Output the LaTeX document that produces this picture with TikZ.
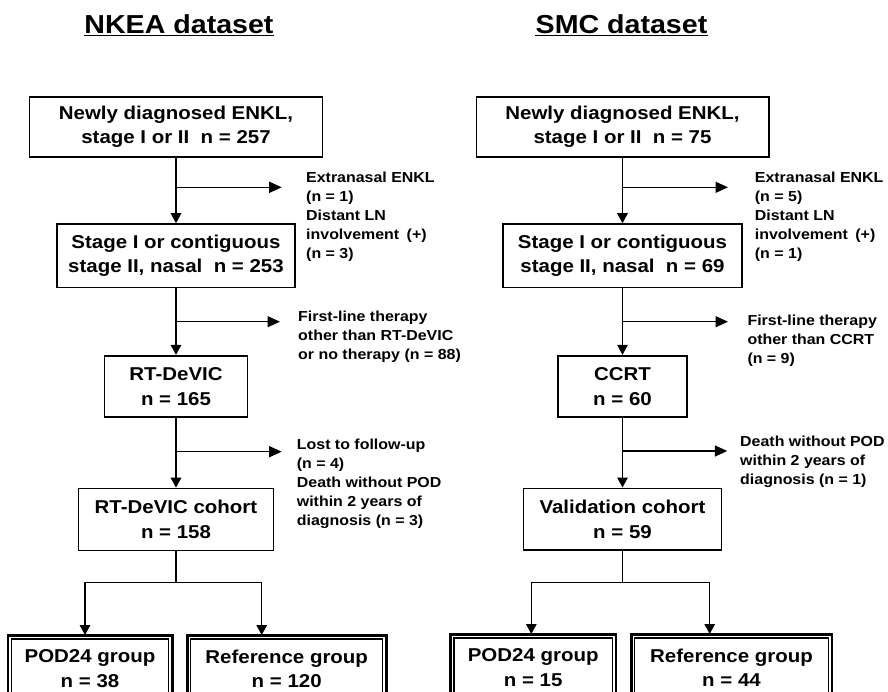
\documentclass[tikz,border=0pt]{standalone}
\usepackage{fontspec}
\setmainfont{Liberation Sans}[FakeStretch=1.1]
\usetikzlibrary{arrows.meta}
\begin{document}
\begin{tikzpicture}[x=1pt,y=-1pt,
  box/.style={draw, line width=1.7pt, inner sep=0pt, align=center,
    font=\bfseries\fontsize{18.6}{24.5}\selectfont},
  grp/.style={draw, line width=1.6pt, inner sep=0pt, align=center,
    font=\bfseries\fontsize{18.6}{24.5}\selectfont},
  side/.style={anchor=north west, inner sep=0pt, align=left,
    font=\bfseries\fontsize{14.5}{19}\selectfont},
  ttl/.style={inner sep=0pt, anchor=base,
    font=\bfseries\fontsize{26}{30}\selectfont},
  ln/.style={line width=1.5pt},
  varr/.style={line width=1.5pt, -{Triangle[length=10pt,width=10.5pt]}},
  harr/.style={line width=1.5pt, -{Triangle[length=12.5pt,width=11pt]}},
  thinrule/.style={line width=0.8pt},
  innerrule/.style={line width=1.4pt}
]
\useasboundingbox (0,0) rectangle (888,691);
\clip (0,0) rectangle (888,691);

% titles
\node[ttl] (t1) at (179,33.3) {NKEA dataset};
\draw[line width=1.6pt] ([yshift=-2.3pt]t1.base west) -- ([yshift=-2.3pt]t1.base east);
\node[ttl] (t2) at (621.5,33.3) {SMC dataset};
\draw[line width=1.6pt] ([yshift=-2.3pt]t2.base west) -- ([yshift=-2.3pt]t2.base east);

% ---------------- left column ----------------
\node[box, minimum width=293pt, minimum height=60pt] (a1) at (176,126.7)
  {Newly diagnosed ENKL,\\stage I or II\ \ n = 257};
\node[box, minimum width=238pt, minimum height=63.3pt] (a2) at (176,255.7)
  {Stage I or contiguous\\stage II, nasal\ \ n = 253};
\node[box, minimum width=143pt, minimum height=61.6pt] (a3) at (176,386.5)
  {RT-DeVIC\\n = 165};
\node[box, minimum width=195pt, minimum height=62pt] (a4) at (176,519.5)
  {RT-DeVIC cohort\\n = 158};
\node[grp, minimum width=165.4pt, minimum height=67.6pt] (p1) at (90,668.8)
  {POD24 group\\n = 38};
\node[grp, minimum width=200pt, minimum height=67.6pt] (r1) at (286.7,668.8)
  {Reference group\\n = 120};

\node[side] (s1) at (306,172)
  {Extranasal ENKL\\(n = 1)\\Distant LN\\involvement\hspace{3pt} (+)\\(n = 3)};
\node[side] (s2) at (298,311)
  {First-line therapy\\other than RT-DeVIC\\or no therapy (n = 88)};
\node[side] (s3) at (296.7,438.5)
  {Lost to follow-up\\(n = 4)\\Death without POD\\within 2 years of\\diagnosis (n = 3)};

\draw[varr] (a1.south) -- (a2.north);
\draw[varr] (a2.south) -- (a3.north);
\draw[varr] (a3.south) -- (a4.north);
\coordinate (b1s) at (176,187.3);  \coordinate (b1e) at (281.7,187.3);
\coordinate (b2s) at (176,321.7);  \coordinate (b2e) at (280,321.7);
\coordinate (b3s) at (176,451.7);  \coordinate (b3e) at (281.7,451.7);
\draw[harr] (b1s) -- (b1e);
\draw[harr] (b2s) -- (b2e);
\draw[harr] (b3s) -- (b3e);

\coordinate (sL) at (176,582.7);
\coordinate (p1t) at (85,635);
\coordinate (r1t) at (261.7,635);
\draw[ln] (a4.south) -- (sL);
\draw[varr] (sL) -| (p1t);
\draw[varr] (sL) -| (r1t);

% ---------------- right column ----------------
\node[box, minimum width=292.3pt, minimum height=60pt] (c1) at (622.5,126.7)
  {Newly diagnosed ENKL,\\stage I or II\ \ n = 75};
\node[box, minimum width=239.4pt, minimum height=63.3pt] (c2) at (622.5,255.7)
  {Stage I or contiguous\\stage II, nasal\ \ n = 69};
\node[box, minimum width=129pt, minimum height=61.6pt] (c3) at (622.5,386.5)
  {CCRT\\n = 60};
\node[box, minimum width=198pt, minimum height=61.7pt] (c4) at (622.5,519.2)
  {Validation cohort\\n = 59};
\node[grp, minimum width=166.3pt, minimum height=67.6pt] (q1) at (533.2,667.8)
  {POD24 group\\n = 15};
\node[grp, minimum width=201.6pt, minimum height=67.6pt] (q2) at (731.5,667.8)
  {Reference group\\n = 44};

\node[side] (u1) at (754.7,172)
  {Extranasal ENKL\\(n = 5)\\Distant LN\\involvement\hspace{3pt} (+)\\(n = 1)};
\node[side] (u2) at (747.3,314.5)
  {First-line therapy\\other than CCRT\\(n = 9)};
\node[side] (u3) at (740,436)
  {Death without POD\\within 2 years of\\diagnosis (n = 1)};

\draw[varr] (c1.south) -- (c2.north);
\draw[varr] (c2.south) -- (c3.north);
\draw[varr] (c3.south) -- (c4.north);
\coordinate (d1s) at (622.5,187.3);  \coordinate (d1e) at (728,187.3);
\coordinate (d2s) at (622.5,321.7);  \coordinate (d2e) at (728,321.7);
\coordinate (d3s) at (622.5,451);    \coordinate (d3e) at (727.3,451);
\draw[harr] (d1s) -- (d1e);
\draw[harr] (d2s) -- (d2e);
\draw[harr] (d3s) -- (d3e);

\coordinate (sR) at (622.5,582.3);
\coordinate (q1t) at (531.3,634);
\coordinate (q2t) at (709.7,634);
\draw[ln] (c4.south) -- (sR);
\draw[varr] (sR) -| (q1t);
\draw[varr] (sR) -| (q2t);

% inner rules of the double-framed group boxes
\foreach \n in {p1,r1,q1,q2}{
  \draw[thinrule] ([shift={(2.2pt,-2.2pt)}]\n.north west) rectangle ([shift={(-2.2pt,2.2pt)}]\n.south east);
  \draw[innerrule] ([shift={(4.8pt,-4.8pt)}]\n.north west) rectangle ([shift={(-4.8pt,4.8pt)}]\n.south east);
}
\end{tikzpicture}
\end{document}
